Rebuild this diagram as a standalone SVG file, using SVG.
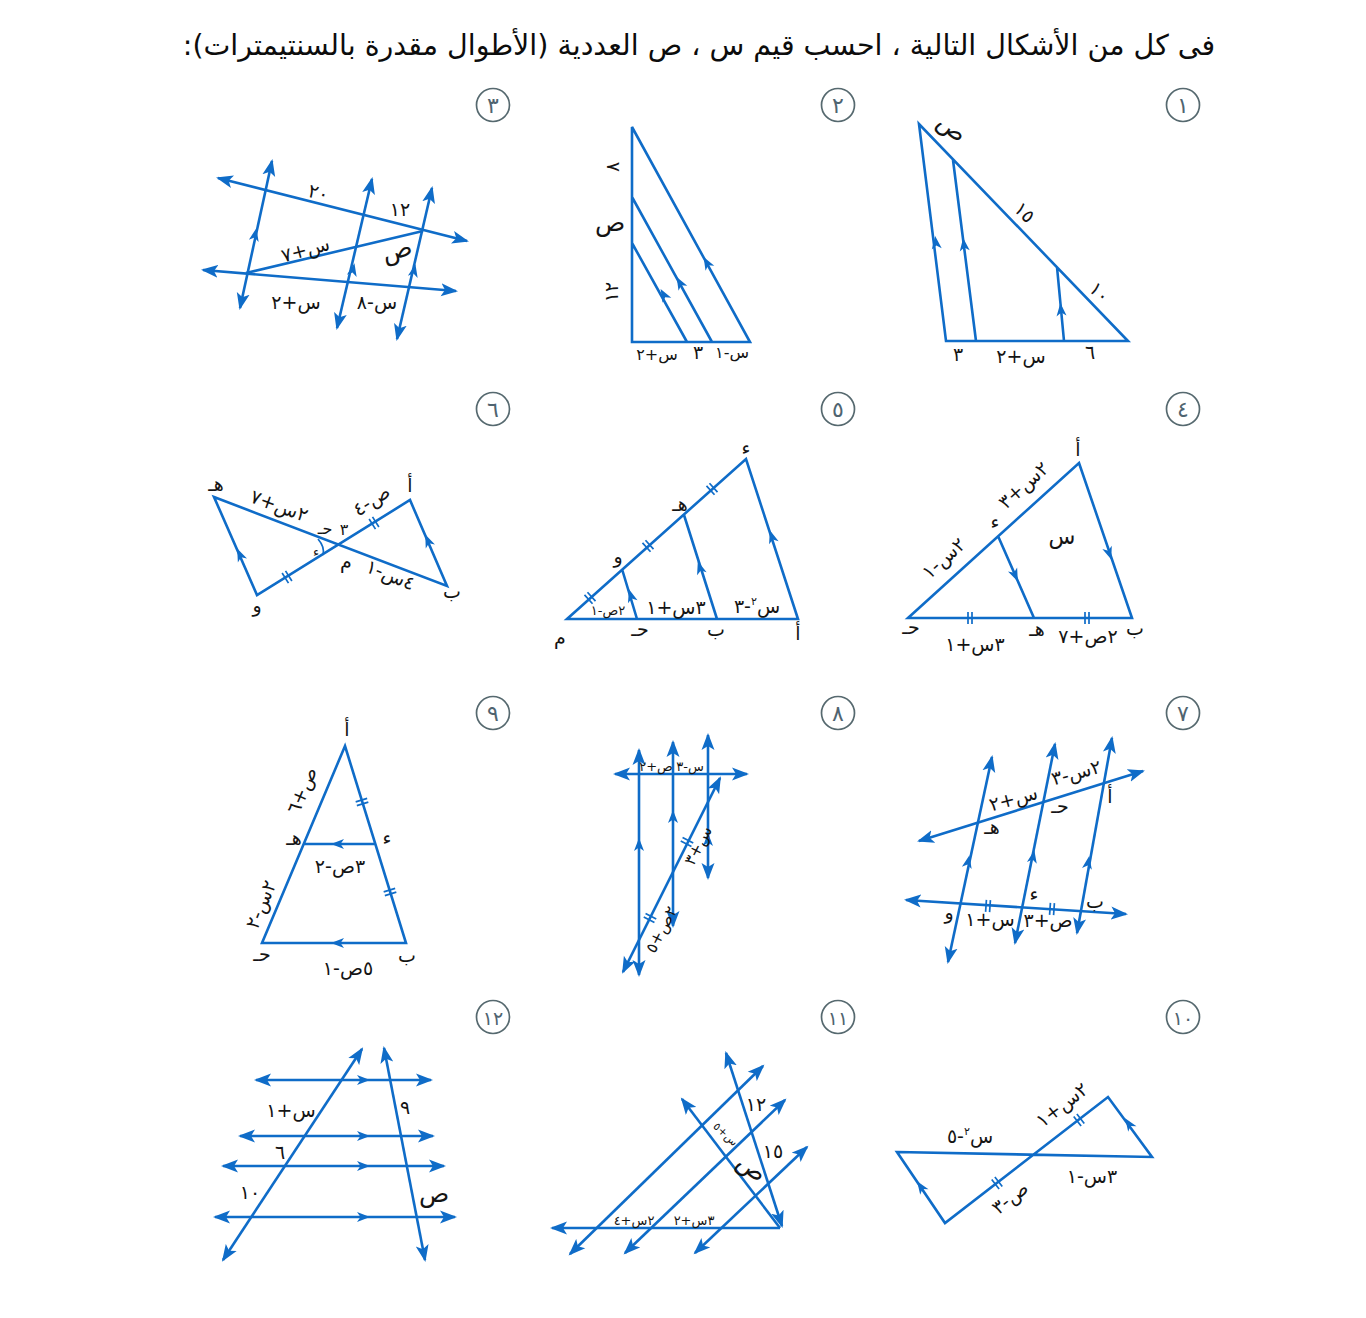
<svg xmlns="http://www.w3.org/2000/svg" width="1366" height="1318" viewBox="0 0 1366 1318">
<style>
text{font-family:"DejaVu Sans","Noto Sans",sans-serif;direction:rtl;text-anchor:middle;fill:#141414;font-size:19px}
.title{font-size:28.5px;fill:#0c0c0c}
.b{font-size:25px}
.m{font-size:16px}
.s{font-size:13px}
.xs{font-size:11px}
.n{font-size:22px;fill:#4f6470}
.ln{fill:none;stroke:#0f6cc8;stroke-width:2.6;stroke-linejoin:miter}
.a{marker-start:url(#h);marker-end:url(#h)}
.e{marker-end:url(#h)}
.c{fill:#0f6cc8}
.k{stroke:#0f6cc8;stroke-width:1.7;fill:none}
.o{fill:#fff;stroke:#56696f;stroke-width:1.7}
</style>
<defs>
<marker id="h" markerUnits="userSpaceOnUse" markerWidth="18" markerHeight="14" refX="15" refY="7" orient="auto-start-reverse"><path d="M17 7L0 0.5L4 7L0 13.5Z" fill="#0f6cc8"/></marker>
<path id="c" class="c" d="M7 0L-6 -5L-2.5 0L-6 5Z"/>
<g id="k"><path class="k" d="M-2 -6V6M2 -6V6"/></g>
</defs>
<rect width="1366" height="1318" fill="#fff"/>
<text class="title" x="699" y="55">فى كل من الأشكال التالية ، احسب قيم س ، ص العددية (الأطوال مقدرة بالسنتيمترات):</text>

<g id="badges">
<circle class="o" cx="1183" cy="105" r="16.5"/><text class="n" x="1183" y="113">١</text>
<circle class="o" cx="838" cy="105" r="16.5"/><text class="n" x="838" y="113">٢</text>
<circle class="o" cx="493" cy="105" r="16.5"/><text class="n" x="493" y="113">٣</text>
<circle class="o" cx="1183" cy="409" r="16.5"/><text class="n" x="1183" y="417">٤</text>
<circle class="o" cx="838" cy="409" r="16.5"/><text class="n" x="838" y="417">٥</text>
<circle class="o" cx="493" cy="409" r="16.5"/><text class="n" x="493" y="417">٦</text>
<circle class="o" cx="1183" cy="713" r="16.5"/><text class="n" x="1183" y="721">٧</text>
<circle class="o" cx="838" cy="713" r="16.5"/><text class="n" x="838" y="721">٨</text>
<circle class="o" cx="493" cy="713" r="16.5"/><text class="n" x="493" y="721">٩</text>
<circle class="o" cx="1183" cy="1017" r="16.5"/><text class="n" x="1183" y="1025" style="font-size:19px">١٠</text>
<circle class="o" cx="838" cy="1017" r="16.5"/><text class="n" x="838" y="1025" style="font-size:19px">١١</text>
<circle class="o" cx="493" cy="1017" r="16.5"/><text class="n" x="493" y="1025" style="font-size:19px">١٢</text>
</g>

<g id="fig1">
<path class="ln" d="M919 124L946 341H1128ZM953 160L976 341M1057 267L1064 341"/>
<use href="#c" transform="translate(936 243) rotate(-97)"/><use href="#c" transform="translate(964 245) rotate(-97)"/><use href="#c" transform="translate(1061 310) rotate(-95)"/>
<text class="b" transform="translate(947 134) rotate(40)">ص</text>
<text transform="translate(1020 217) rotate(45)">١٥</text>
<text transform="translate(1095 297) rotate(45)">١٠</text>
<text x="958" y="361">٣</text><text x="1021" y="363">س+٢</text><text x="1090" y="359">٦</text>
</g>

<g id="fig2">
<path class="ln" d="M632 127V342H750ZM632 197L712 342M632 243L687 342"/>
<use href="#c" transform="translate(707 263) rotate(-119)"/><use href="#c" transform="translate(680 283) rotate(-119)"/><use href="#c" transform="translate(664 295) rotate(-119)"/>
<text transform="translate(619 167) rotate(-90)">٨</text>
<text class="b" x="610" y="231">ص</text>
<text transform="translate(618 292) rotate(-90)">١٢</text>
<text class="m" x="657" y="360">س+٢</text><text x="698" y="359">٣</text><text class="m" x="732" y="358">س-١</text>
</g>

<g id="fig3">
<path class="ln a" d="M218 178L467 241"/><path class="ln a" d="M203 270L456 291"/><path class="ln" d="M246 273L423 231"/>
<path class="ln a" d="M272 161L240 308"/><path class="ln a" d="M372 179L337 328"/><path class="ln a" d="M432 188L397 339"/>
<use href="#c" transform="translate(255 235) rotate(-78)"/><use href="#c" transform="translate(353 270) rotate(-78)"/><use href="#c" transform="translate(414 271) rotate(-78)"/>
<text transform="translate(317 199) rotate(14)">٢٠</text><text x="400" y="216">١٢</text>
<text transform="translate(307 256) rotate(-15)">س+٧</text><text class="b" transform="translate(399 258) rotate(-15)">ص</text>
<text x="296" y="309">س+٢</text><text x="377" y="309">س-٨</text>
</g>

<g id="fig4">
<path class="ln" d="M1079 463L1132 618H908ZM998 536L1034 618"/>
<use href="#c" transform="translate(1109 553) rotate(71)"/><use href="#c" transform="translate(1015 575) rotate(66)"/>
<use href="#k" transform="translate(970 618)"/><use href="#k" transform="translate(1087 618)"/>
<text x="1078" y="456">أ</text><text x="995" y="529">ء</text><text x="1037" y="636">هـ</text><text x="1135" y="635">ب</text><text x="911" y="634">حـ</text>
<text x="1062" y="544" style="font-size:22px">س</text>
<text transform="translate(1028 490) rotate(-42)">٢س+٣</text><text transform="translate(948 563) rotate(-42)">٢س-١</text>
<text x="975" y="651">٣س+١</text><text x="1088" y="643">٢ص+٧</text>
</g>

<g id="fig5">
<path class="ln" d="M567 619L746 459L798 619ZM684 515L717 619M622 569L637 619"/>
<use href="#c" transform="translate(772 537) rotate(-108)"/><use href="#c" transform="translate(700 568) rotate(-108)"/><use href="#c" transform="translate(631 596) rotate(-107)"/>
<use href="#k" transform="translate(712 489) rotate(-42)"/><use href="#k" transform="translate(648 546) rotate(-42)"/><use href="#k" transform="translate(590 598) rotate(-42)"/>
<text x="746" y="455">ء</text><text x="680" y="511">هـ</text><text x="618" y="563">و</text><text x="560" y="644">م</text><text x="640" y="636">حـ</text><text x="716" y="636">ب</text><text x="798" y="640">أ</text>
<text x="757" y="613">س<tspan class="xs" dy="-8">٢</tspan><tspan dy="8">-٣</tspan></text>
<text x="676" y="614">٣س+١</text><text class="s" x="608" y="615">٢ص-١</text>
</g>

<g id="fig6">
<path class="ln" d="M214 497L447 586L410 500L257 595Z"/>
<path class="k" d="M318 539Q325 547 323 555"/>
<use href="#c" transform="translate(240 555) rotate(-114)"/><use href="#c" transform="translate(428 541) rotate(-113)"/>
<use href="#k" transform="translate(287 577) rotate(-32)"/><use href="#k" transform="translate(374 523) rotate(-32)"/>
<text x="216" y="491">هـ</text><text class="s" x="316" y="556">ء</text><text class="m" x="325" y="534">حـ</text><text class="m" x="344" y="535">٣</text><text x="346" y="568">م</text><text x="410" y="492">أ</text><text x="452" y="598">ب</text><text x="257" y="612">و</text>
<text transform="translate(277 512) rotate(20)">٢س+٧</text><text transform="translate(375 506) rotate(-33)">ص-٤</text><text transform="translate(388 581) rotate(22)">٤س-١</text>
</g>

<g id="fig7">
<path class="ln a" d="M919 841L1143 771"/><path class="ln a" d="M906 900L1126 914"/>
<path class="ln a" d="M992 757L948 962"/><path class="ln a" d="M1055 744L1015 943"/><path class="ln a" d="M1112 738L1077 933"/>
<use href="#c" transform="translate(968 862) rotate(-78)"/><use href="#c" transform="translate(1033 857) rotate(-79)"/><use href="#c" transform="translate(1088 863) rotate(-80)"/>
<use href="#k" transform="translate(988 906) rotate(4)"/><use href="#k" transform="translate(1052 909) rotate(4)"/>
<text x="1110" y="803">أ</text><text x="1060" y="813">حـ</text><text x="992" y="834">هـ</text><text x="1034" y="901">ء</text><text x="1095" y="908">ب</text><text x="949" y="919">و</text>
<text transform="translate(1015 805) rotate(-15)">س+٢</text><text transform="translate(1078 779) rotate(-15)">٢س-٣</text>
<text x="990" y="926">س+١</text><text x="1048" y="927">ص+٣</text>
</g>

<g id="fig8">
<path class="ln a" d="M615 774H747"/><path class="ln a" d="M639 750V975"/><path class="ln a" d="M673 742V926"/><path class="ln a" d="M708 735V878"/><path class="ln a" d="M720 778L623 972"/>
<use href="#c" transform="translate(639 845) rotate(-90)"/><use href="#c" transform="translate(673 817) rotate(-90)"/><use href="#c" transform="translate(708 840) rotate(-90)"/>
<use href="#k" transform="translate(687 842) rotate(-63)"/><use href="#k" transform="translate(650 918) rotate(-63)"/>
<text class="s" x="656" y="771">ص+٢</text><text class="s" x="690" y="771">س-٣</text>
<text class="m" transform="translate(703 848) rotate(-63)">س+٣</text><text class="m" transform="translate(666 932) rotate(-63)">٢ص+٥</text>
</g>

<g id="fig9">
<path class="ln" d="M345 746L406 943H262ZM304 844H376"/>
<use href="#c" transform="translate(338 844) rotate(180)"/><use href="#c" transform="translate(338 943) rotate(180)"/>
<use href="#k" transform="translate(362 802) rotate(73)"/><use href="#k" transform="translate(390 892) rotate(73)"/>
<text x="347" y="736">أ</text><text x="294" y="845">هـ</text><text x="387" y="845">ء</text><text x="262" y="961">حـ</text><text x="407" y="962">ب</text>
<text x="340" y="873">٣ص-٢</text><text x="348" y="975">٥ص-١</text>
<text transform="translate(308 793) rotate(-67)">ص+٦</text><text transform="translate(267 907) rotate(-67)">٢س-٢</text>
</g>

<g id="fig10">
<path class="ln" d="M897 1152L1152 1157L1108 1097L945 1223Z"/>
<use href="#c" transform="translate(1129 1124) rotate(-124)"/><use href="#c" transform="translate(921 1187) rotate(-124)"/>
<use href="#k" transform="translate(1079 1120) rotate(-38)"/><use href="#k" transform="translate(997 1183) rotate(-38)"/>
<text x="970" y="1143">س<tspan class="xs" dy="-8">٢</tspan><tspan dy="8">-٥</tspan></text>
<text transform="translate(1066 1110) rotate(-38)">٢س+١</text>
<text x="1092" y="1183">٣س-١</text>
<text transform="translate(1014 1203) rotate(-38)">ص-٣</text>
</g>

<g id="fig11">
<path class="ln a" d="M763 1066L570 1254"/><path class="ln a" d="M785 1100L625 1253"/><path class="ln a" d="M807 1147L695 1253"/>
<path class="ln e" d="M780 1228H552"/><path class="ln e" d="M780 1228L682 1099"/><path class="ln a" d="M726 1053L782 1226"/>
<text x="756" y="1111">١٢</text><text x="773" y="1158">١٥</text>
<text class="b" transform="translate(747 1174) rotate(38)">ص</text>
<text class="xs" transform="translate(723 1137) rotate(43)">س+٥</text>
<text class="s" x="634" y="1225">٢س+٤</text><text class="s" x="694" y="1225">٣س+٢</text>
</g>

<g id="fig12">
<path class="ln a" d="M256 1080H431"/><path class="ln a" d="M240 1136H433"/><path class="ln a" d="M223 1166H444"/><path class="ln a" d="M215 1217H455"/>
<path class="ln a" d="M362 1049L223 1260"/><path class="ln a" d="M384 1048L425 1260"/>
<use href="#c" transform="translate(363 1080)"/><use href="#c" transform="translate(363 1136)"/><use href="#c" transform="translate(363 1166)"/><use href="#c" transform="translate(363 1217)"/>
<text x="291" y="1117">س+١</text><text x="405" y="1114">٩</text><text x="280" y="1159">٦</text><text x="250" y="1199">١٠</text><text class="b" x="434" y="1202">ص</text>
</g>
</svg>
